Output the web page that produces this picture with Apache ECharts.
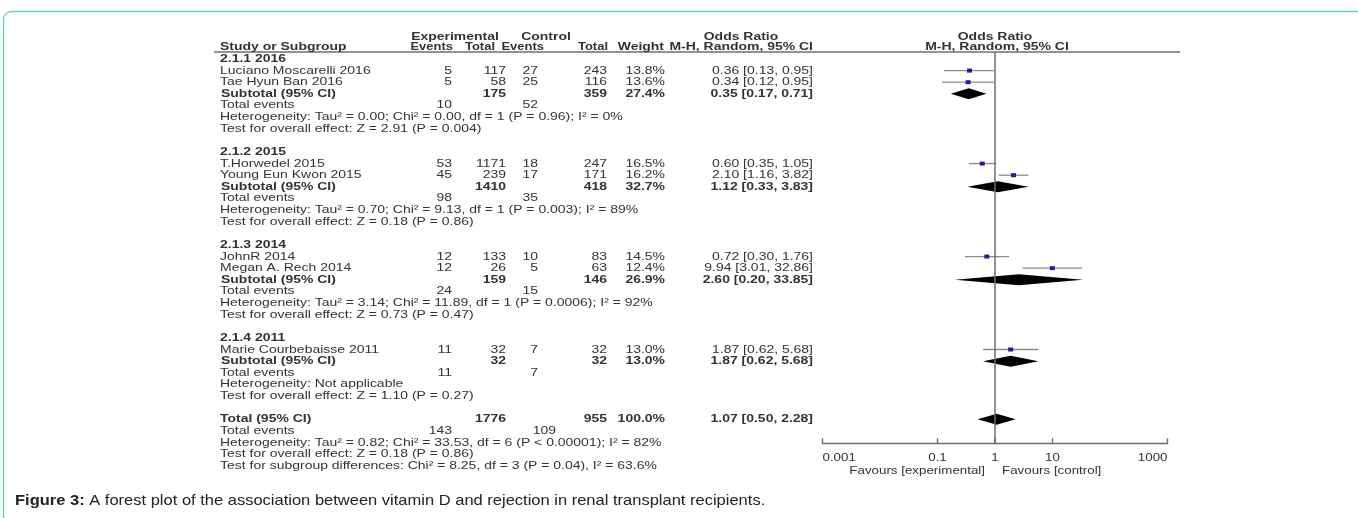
<!DOCTYPE html>
<html>
<head>
<meta charset="utf-8">
<script src="https://cdn.jsdelivr.net/npm/echarts@6/dist/echarts.min.js"></script>
<style>
html, body { margin: 0; padding: 0; background: #fff; }
#chart { width: 1358px; height: 518px; }
</style>
</head>
<body>
<div id="chart"></div>
<script>
// ---- values ----
const subgroupTitles = ['2.1.1 2016', '2.1.2 2015', '2.1.3 2014', '2.1.4 2011'];

const studyNames = ['Luciano Moscarelli 2016', 'Tae Hyun Ban 2016', 'T.Horwedel 2015', 'Young Eun Kwon 2015',
  'JohnR 2014', 'Megan A. Rech 2014', 'Marie Courbebaisse 2011'];
const studyGroup = [0, 0, 1, 1, 2, 2, 3];
const expEvents = [5, 5, 53, 45, 12, 12, 11];
const expTotal = [117, 58, 1171, 239, 133, 26, 32];
const ctrlEvents = [27, 25, 18, 17, 10, 5, 7];
const ctrlTotal = [243, 116, 247, 171, 83, 63, 32];
const studyWeight = ['13.8%', '13.6%', '16.5%', '16.2%', '14.5%', '12.4%', '13.0%'];
const studyOR = [0.36, 0.34, 0.60, 2.10, 0.72, 9.94, 1.87];
const studyLow = [0.13, 0.12, 0.35, 1.16, 0.30, 3.01, 0.62];
const studyHigh = [0.95, 0.95, 1.05, 3.82, 1.76, 32.86, 5.68];

const subExpTotal = [175, 1410, 159, 32];
const subCtrlTotal = [359, 418, 146, 32];
const subWeight = ['27.4%', '32.7%', '26.9%', '13.0%'];
const subOR = [0.35, 1.12, 2.60, 1.87];
const subLow = [0.17, 0.33, 0.20, 0.62];
const subHigh = [0.71, 3.83, 33.85, 5.68];
const subExpEvents = [10, 98, 24, 11];
const subCtrlEvents = [52, 35, 15, 7];
const subHet = [
  'Heterogeneity: Tau² = 0.00; Chi² = 0.00, df = 1 (P = 0.96); I² = 0%',
  'Heterogeneity: Tau² = 0.70; Chi² = 9.13, df = 1 (P = 0.003); I² = 89%',
  'Heterogeneity: Tau² = 3.14; Chi² = 11.89, df = 1 (P = 0.0006); I² = 92%',
  'Heterogeneity: Not applicable'
];
const subTest = [
  'Test for overall effect: Z = 2.91 (P = 0.004)',
  'Test for overall effect: Z = 0.18 (P = 0.86)',
  'Test for overall effect: Z = 0.73 (P = 0.47)',
  'Test for overall effect: Z = 1.10 (P = 0.27)'
];

const overallTotals = [1776, 955];
const overallEvents = [143, 109];
const overallWeight = '100.0%';
const overallOR = [1.07, 0.50, 2.28]; // estimate, low, high
const overallNotes = [
  'Heterogeneity: Tau² = 0.82; Chi² = 33.53, df = 6 (P < 0.00001); I² = 82%',
  'Test for overall effect: Z = 0.18 (P = 0.86)',
  'Test for subgroup differences: Chi² = 8.25, df = 3 (P = 0.04), I² = 63.6%'
];

const tickValues = [0.001, 0.1, 1, 10, 1000];
const tickLabels = ['0.001', '0.1', '1', '10', '1000'];

// ---- layout ----
const FONT = '"Liberation Sans", Arial, sans-serif';
const SX = 1.27;          // the original figure is stretched sideways
const TXT = '#333';
const col = { name: 220, expEv: 452, expTot: 506, ctrlEv: 538, ctrlTot: 607, weight: 665, or: 813 };
const fmtOR = (e, l, h) => `${e.toFixed(2)} [${l.toFixed(2)}, ${h.toFixed(2)}]`;

// build the row list (row index = y value on the hidden axis)
const rows = [];
const studyPts = [], diamondPts = [];
let r = 0;
subgroupTitles.forEach((title, g) => {
  rows.push({ r: r++, cells: [[col.name, title, 'left', true]] });
  studyNames.forEach((name, i) => {
    if (studyGroup[i] !== g) return;
    rows.push({ r, cells: [[col.name, name, 'left'], [col.expEv, expEvents[i]], [col.expTot, expTotal[i]],
      [col.ctrlEv, ctrlEvents[i]], [col.ctrlTot, ctrlTotal[i]], [col.weight, studyWeight[i]],
      [col.or, fmtOR(studyOR[i], studyLow[i], studyHigh[i])]] });
    studyPts.push([studyLow[i], studyHigh[i], studyOR[i], r]);
    r++;
  });
  rows.push({ r, cells: [[col.name + 1, 'Subtotal (95% CI)', 'left', true], [col.expTot, subExpTotal[g], 'right', true],
    [col.ctrlTot, subCtrlTotal[g], 'right', true], [col.weight, subWeight[g], 'right', true],
    [col.or, fmtOR(subOR[g], subLow[g], subHigh[g]), 'right', true]] });
  diamondPts.push([subLow[g], subHigh[g], subOR[g], r]);
  r++;
  rows.push({ r: r++, cells: [[col.name, 'Total events', 'left'], [col.expEv, subExpEvents[g]], [col.ctrlEv, subCtrlEvents[g]]] });
  rows.push({ r: r++, cells: [[col.name, subHet[g], 'left']] });
  rows.push({ r: r++, cells: [[col.name, subTest[g], 'left']] });
  r++;
});
rows.push({ r, cells: [[col.name, 'Total (95% CI)', 'left', true], [col.expTot, overallTotals[0], 'right', true],
  [col.ctrlTot, overallTotals[1], 'right', true], [col.weight, overallWeight, 'right', true],
  [col.or, fmtOR(overallOR[0], overallOR[1], overallOR[2]), 'right', true]] });
diamondPts.push([overallOR[1], overallOR[2], overallOR[0], r]);
r++;
rows.push({ r: r++, cells: [[col.name, 'Total events', 'left'], [col.expEv, overallEvents[0]], [col.ctrlEv + 18, overallEvents[1]]] });
overallNotes.forEach(n => rows.push({ r: r++, cells: [[col.name, n, 'left']] }));

const Y_MIN = -0.6, Y_MAX = 33.07;

const chart = echarts.init(document.getElementById('chart'), null, { renderer: 'canvas' });

chart.setOption({
  animation: false,
  grid: { left: 822.5, right: 190.5, top: 52, bottom: 74.7 },
  xAxis: {
    type: 'log', logBase: 10, min: 0.001, max: 1000, position: 'bottom',
    axisLine: { show: true, onZero: false, lineStyle: { color: '#6e6e6e', width: 1.4 } },
    axisTick: { show: false }, axisLabel: { show: false }, splitLine: { show: false }
  },
  yAxis: { type: 'value', inverse: true, min: Y_MIN, max: Y_MAX, show: false },
  series: [
    {
      name: 'studies', type: 'custom', data: studyPts,
      encode: { x: [0, 1, 2], y: 3 },
      renderItem: (params, api) => {
        const row = api.value(3);
        const lo = api.coord([api.value(0), row]);
        const hi = api.coord([api.value(1), row]);
        const c = api.coord([api.value(2), row]);
        return { type: 'group', children: [
          { type: 'line', shape: { x1: lo[0], y1: lo[1], x2: hi[0], y2: hi[1] }, style: { stroke: '#8a8a8a', lineWidth: 1.3 } },
          { type: 'rect', shape: { x: c[0] - 2.5, y: c[1] - 2, width: 5, height: 4 }, style: { fill: '#1c1ca0' } }
        ] };
      },
      markLine: {
        silent: true, symbol: 'none', label: { show: false },
        lineStyle: { color: '#6e6e6e', width: 1.5, type: 'solid' },
        data: [{ xAxis: 1 }]
      }
    },
    {
      name: 'diamonds', type: 'custom', data: diamondPts,
      encode: { x: [0, 1, 2], y: 3 },
      renderItem: (params, api) => {
        const row = api.value(3);
        const lo = api.coord([api.value(0), row]);
        const hi = api.coord([api.value(1), row]);
        const c = api.coord([api.value(2), row]);
        return { type: 'polygon', shape: { points: [[lo[0], lo[1]], [c[0], c[1] - 5.5], [hi[0], hi[1]], [c[0], c[1] + 5.5]] },
          style: { fill: '#000' } };
      }
    },
    {
      name: 'ticks', type: 'custom', data: tickValues.map(v => [v, Y_MAX]),
      renderItem: (params, api) => {
        const p = api.coord([api.value(0), api.value(1)]);
        return { type: 'line', shape: { x1: p[0], y1: p[1], x2: p[0], y2: p[1] - 5 }, style: { stroke: '#6e6e6e', lineWidth: 1.4 } };
      }
    }
  ]
});

// ---- text: table, headers, axis labels, caption ----
const rowY = i => chart.convertToPixel({ yAxisIndex: 0 }, i);
const text = (x, y, s, align, bold, size, scale) => ({
  type: 'text', x, y, scaleX: scale == null ? SX : scale, silent: true,
  style: { text: String(s), x: 0, y: 0, fill: TXT, textAlign: align || 'right', textVerticalAlign: 'middle',
    font: `${bold ? 'bold ' : ''}${size || 11}px ${FONT}` }
});

const els = [];
els.push({ type: 'rect', silent: true, shape: { x: 3.5, y: 11.5, width: 1400, height: 600, r: 8 },
  style: { fill: 'none', stroke: '#5fd0c2', lineWidth: 1.3 } });
els.push({ type: 'line', silent: true, shape: { x1: 214, y1: 52, x2: 1180, y2: 52 }, style: { stroke: '#6e6e6e', lineWidth: 1.4 } });

const h1 = 37, h2 = 47;
const xOne = chart.convertToPixel({ xAxisIndex: 0 }, 1);
els.push(text(455, h1, 'Experimental', 'center', true));
els.push(text(546, h1, 'Control', 'center', true));
els.push(text(741, h1, 'Odds Ratio', 'center', true));
els.push(text(xOne, h1, 'Odds Ratio', 'center', true));
els.push(text(col.name, h2, 'Study or Subgroup', 'left', true));
els.push(text(453, h2, 'Events', 'right', true, 11, 1.18));
els.push(text(495, h2, 'Total', 'right', true, 11, 1.18));
els.push(text(544, h2, 'Events', 'right', true, 11, 1.18));
els.push(text(608, h2, 'Total', 'right', true, 11, 1.18));
els.push(text(664, h2, 'Weight', 'right', true));
els.push(text(col.or, h2, 'M-H, Random, 95% CI', 'right', true));
els.push(text(xOne + 2, h2, 'M-H, Random, 95% CI', 'center', true));

rows.forEach(row => {
  const y = rowY(row.r);
  row.cells.forEach(([x, s, align, bold]) => els.push(text(x, y, s, align || 'right', bold)));
});

// axis tick labels
const axisY = rowY(Y_MAX);
tickValues.forEach((v, i) => {
  const x = chart.convertToPixel({ xAxisIndex: 0 }, v);
  const align = i === 0 ? 'left' : (i === tickValues.length - 1 ? 'right' : 'center');
  els.push(text(x, axisY + 15, tickLabels[i], align, false, 10.5));
});
els.push(text(xOne - 10, axisY + 28, 'Favours [experimental]', 'right', false, 10.5));
els.push(text(xOne + 7, axisY + 28, 'Favours [control]', 'left', false, 10.5));

// caption
els.push({
  type: 'text', x: 15, y: 501, scaleX: 1.1, silent: true,
  style: {
    text: '{b|Figure 3:} A forest plot of the association between vitamin D and rejection in renal transplant recipients.',
    x: 0, y: 0, fill: '#222', textAlign: 'left', textVerticalAlign: 'middle',
    font: `15px ${FONT}`,
    rich: { b: { fontWeight: 'bold', fontSize: 15, fontFamily: FONT, fill: '#222' } }
  }
});

chart.setOption({ graphic: { elements: els } });
</script>
</body>
</html>
